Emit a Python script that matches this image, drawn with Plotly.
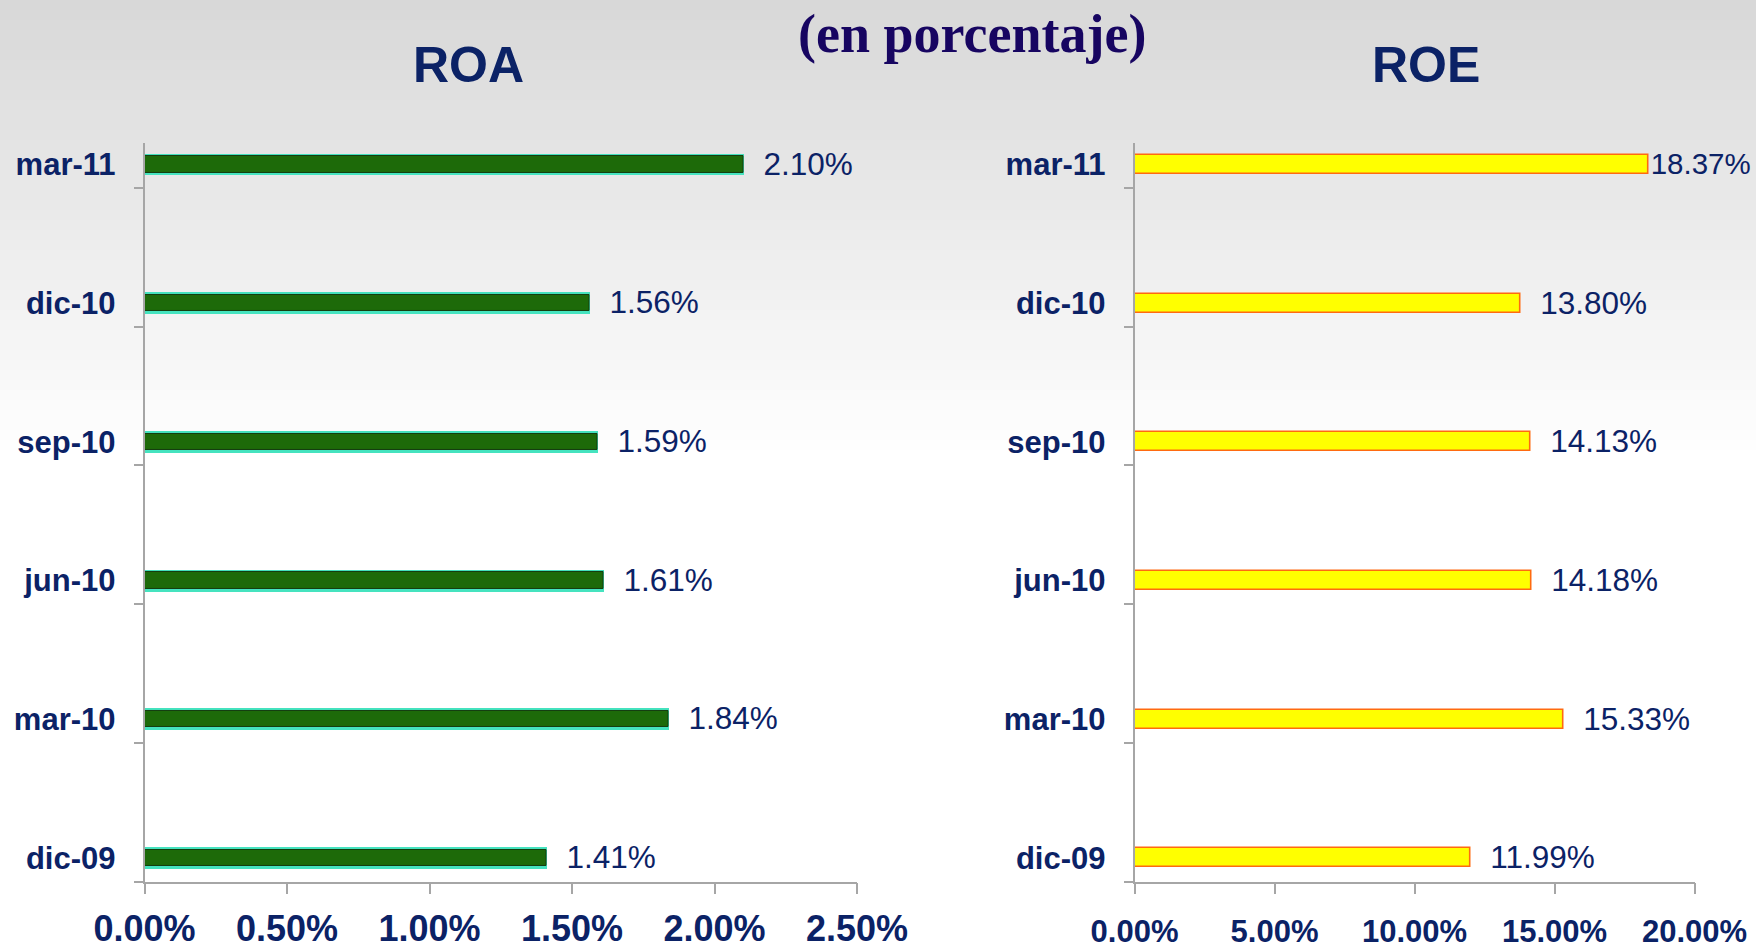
import plotly.graph_objects as go

categories = ["dic-09", "mar-10", "jun-10", "sep-10", "dic-10", "mar-11"]
roa_values = [1.41, 1.84, 1.61, 1.59, 1.56, 2.10]
roe_values = [11.99, 15.33, 14.18, 14.13, 13.80, 18.37]
roa_ticks = [0, 0.5, 1.0, 1.5, 2.0, 2.5]
roe_ticks = [0, 5, 10, 15, 20]

positions = list(range(len(categories)))

NAVY = "#0b2266"
SANS = "Liberation Sans, Arial"
NBSP = "\u00a0"

fig = go.Figure()

# ROA: aquamarine edge bar underneath, green body on top
fig.add_trace(go.Bar(
    x=roa_values, y=positions, orientation="h", width=0.158,
    marker=dict(color="#45e3bf", line=dict(width=0)),
    xaxis="x", yaxis="y", hoverinfo="skip", showlegend=False))
fig.add_trace(go.Bar(
    x=roa_values, y=positions, orientation="h", width=0.118,
    marker=dict(color="#1d6a09", line=dict(color="#163d10", width=1)),
    text=[f"{NBSP}{NBSP}{v:.2f}%" for v in roa_values], textposition="outside",
    constraintext="none", cliponaxis=False,
    textfont=dict(family=SANS, size=31.5, color=NAVY),
    xaxis="x", yaxis="y", showlegend=False))

# ROE (the label of the longest bar sits right against the edge, as in the source)
roe_max = max(roe_values)
fig.add_trace(go.Bar(
    x=roe_values, y=positions, orientation="h", width=0.137,
    marker=dict(color="#ffff00", line=dict(color="#ff6a10", width=1.6)),
    text=[f"{v:.2f}%" if v == roe_max else f"{NBSP}{NBSP}{v:.2f}%" for v in roe_values],
    textposition="outside",
    constraintext="none", cliponaxis=False,
    textfont=dict(family=SANS, size=[29.5 if v == roe_max else 31.5 for v in roe_values],
                  color=NAVY),
    xaxis="x2", yaxis="y2", showlegend=False))

yrange = [-0.17, 5.155]
ydomain = [0.074, 0.8498]

def yaxis_cfg(anchor):
    return dict(
        domain=ydomain, range=yrange, anchor=anchor, automargin=False,
        tickmode="array", tickvals=positions, ticktext=categories,
        ticks="", ticklabelstandoff=21,
        tickfont=dict(family=SANS, size=31, color=NAVY, weight="bold"),
        showline=True, linecolor="#a6a6a6", linewidth=1.5,
        showgrid=False, zeroline=False,
        minor=dict(tick0=-0.17, dtick=1, ticks="outside", ticklen=9,
                   tickcolor="#a6a6a6", tickwidth=1.5, showgrid=False),
    )

def xaxis_cfg(domain, ticks, anchor, size, standoff):
    return dict(
        domain=domain, range=[0, ticks[-1]], anchor=anchor, automargin=False,
        tickmode="array", tickvals=ticks,
        ticktext=[f"{t:.2f}%" for t in ticks], tickangle=0,
        ticks="outside", ticklen=11, tickcolor="#a6a6a6", tickwidth=1.5,
        ticklabelstandoff=standoff,
        tickfont=dict(family=SANS, size=size, color=NAVY, weight="bold"),
        showline=True, linecolor="#a6a6a6", linewidth=1.5,
        showgrid=False, zeroline=False,
    )

W, H = 1756, 952

fig.update_layout(
    width=W, height=H,
    margin=dict(l=0, r=0, t=0, b=0, autoexpand=False),
    paper_bgcolor="white", plot_bgcolor="rgba(0,0,0,0)",
    barmode="overlay", bargap=0,
    xaxis=xaxis_cfg([144.5 / W, 857 / W], roa_ticks, "y", 36, 3),
    yaxis=yaxis_cfg("x"),
    xaxis2=xaxis_cfg([1134.5 / W, 1694.5 / W], roe_ticks, "y2", 31, 10),
    yaxis2=yaxis_cfg("x2"),
)

# background gradient (gray at top fading to white)
shapes = []
steps = 45
for i in range(steps):
    y0 = i * 10
    g = int(round(216 + (255 - 216) * (i / steps)))
    shapes.append(dict(type="rect", xref="paper", yref="paper",
                       x0=0, x1=1, y0=1 - (y0 + 10) / H, y1=1 - y0 / H,
                       fillcolor=f"rgb({g},{g},{g})", line=dict(width=0),
                       layer="below"))
fig.update_layout(shapes=shapes)

annotations = [
    dict(text="(en porcentaje)", x=972 / W, y=1 - 34 / H, xref="paper", yref="paper",
         showarrow=False, xanchor="center", yanchor="middle",
         font=dict(family="Liberation Serif, Times New Roman, serif", size=54,
                   color="#170561", weight="bold")),
    dict(text="ROA", x=468 / W, y=1 - 65 / H, xref="paper", yref="paper",
         showarrow=False, xanchor="center", yanchor="middle",
         font=dict(family=SANS, size=50, color=NAVY, weight="bold")),
    dict(text="ROE", x=1426 / W, y=1 - 65 / H, xref="paper", yref="paper",
         showarrow=False, xanchor="center", yanchor="middle",
         font=dict(family=SANS, size=50, color=NAVY, weight="bold")),
]
fig.update_layout(annotations=annotations)

fig.write_html(
    "out.html",
    config={"displayModeBar": False},
    post_script="document.body.style.margin='0';document.body.style.padding='0';"
                "document.body.style.overflow='hidden';"
                "document.documentElement.style.overflow='hidden';",
)
